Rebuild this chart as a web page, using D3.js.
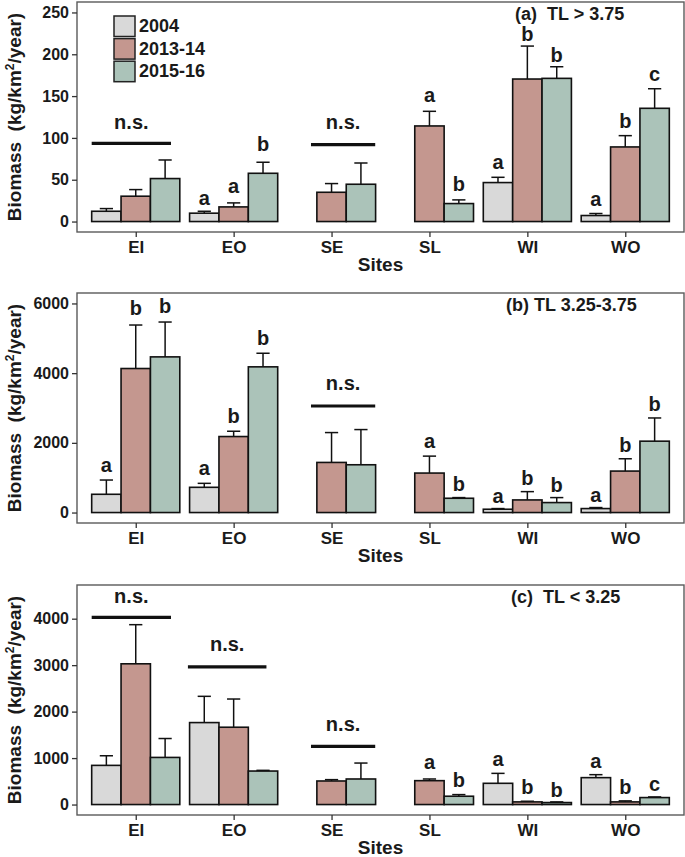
<!DOCTYPE html>
<html><head><meta charset="utf-8">
<script src="https://cdn.jsdelivr.net/npm/d3@7/dist/d3.min.js"></script>
<style>
body{margin:0;background:#fff}
svg{display:block}
text{font-family:"Liberation Sans",Arial,Helvetica,sans-serif;font-weight:bold;fill:#1a1a1a}
</style>
</head><body>
<svg id="chart" width="685" height="857"></svg>
<script>
const sites = ["EI","EO","SE","SL","WI","WO"];
const years = ["2004","2013-14","2015-16"];
const yearColors = ["#d9d9d9","#c4978f","#abc3b9"];

// Panel (a) TL > 3.75
const aMean2004 = [12.3,10,null,null,46.6,7.2];
const aMean2013 = [30.3,17.5,35,114.3,170.4,89.2];
const aMean2015 = [51.4,57.7,44.6,21.5,171.2,135.4];
const aErr2004 = [15.5,12.3,null,null,52.9,9.6];
const aErr2013 = [38.2,22.3,45.4,131.8,209.8,102.7];
const aErr2015 = [73.6,70.9,70,25.9,185.1,158.8];
const aLet2004 = ["","a","","","a","a"];
const aLet2013 = ["","a","","a","b","b"];
const aLet2015 = ["","b","","b","b","c"];
const aLetY2004 = [null,20.3,null,null,62.9,19.1];
const aLetY2013 = [null,33.8,null,142.5,215.4,111.5];
const aLetY2015 = [null,84,null,37,191,168.4];
const aTicks = [0,50,100,150,200,250];
const aLimits = [0,250];
const aNsSites = ["EI","SE"];
const aNsFrom = [-0.45,-0.21];
const aNsTo = [0.36,0.446];
const aNsLine = [93.5,92];
const aNsText = [110.7,110.7];

// Panel (b) TL 3.25-3.75
const bMean2004 = [524,724,null,null,95,114];
const bMean2013 = [4133,2181,1438,1133,362,1190];
const bMean2015 = [4467,4181,1371,410,286,2048];
const bErr2004 = [933,838,null,null,114,143];
const bErr2013 = [5381,2333,2295,1619,600,1543];
const bErr2015 = [5467,4571,2381,429,429,2714];
const bLet2004 = ["a","a","","","a","a"];
const bLet2013 = ["b","b","","a","b","b"];
const bLet2015 = ["b","b","","b","b","b"];
const bLetY2004 = [1162,1076,null,null,267,314];
const bLetY2013 = [5667,2571,null,1857,790,1743];
const bLetY2015 = [5714,4810,null,619,600,2924];
const bTicks = [0,2000,4000,6000];
const bLimits = [0,6000];
const bNsSites = ["SE"];
const bNsFrom = [-0.21];
const bNsTo = [0.446];
const bNsLine = [3057];
const bNsText = [3524];

// Panel (c) TL < 3.25
const cMean2004 = [843,1764,null,null,457,579];
const cMean2013 = [3029,1664,507,514,57,57];
const cMean2015 = [1014,721,550,179,43,150];
const cErr2004 = [1050,2329,null,null,671,643];
const cErr2013 = [3871,2271,536,550,71,79];
const cErr2015 = [1421,736,893,214,57,164];
const cLet2004 = ["","","","","a","a"];
const cLet2013 = ["","","","a","b","b"];
const cLet2015 = ["","","","b","b","c"];
const cLetY2004 = [null,null,null,null,832,786];
const cLetY2013 = [null,null,null,764,222,229];
const cLetY2015 = [null,null,null,386,172,290];
const cTicks = [0,1000,2000,3000,4000];
const cLimits = [0,4500];
const cNsSites = ["EI","EO","SE"];
const cNsFrom = [-0.45,-0.467,-0.21];
const cNsTo = [0.36,0.335,0.446];
const cNsLine = [4029,2964,1250];
const cNsText = [4336,3314,1586];

const panels = [
  {title:"(a)  TL > 3.75", tx:515, means:[aMean2004,aMean2013,aMean2015], errs:[aErr2004,aErr2013,aErr2015],
   lets:[aLet2004,aLet2013,aLet2015], letY:[aLetY2004,aLetY2013,aLetY2015], ticks:aTicks, limits:aLimits,
   ns:{sites:aNsSites,from:aNsFrom,to:aNsTo,line:aNsLine,text:aNsText}, legend:true},
  {title:"(b) TL 3.25-3.75", tx:506, means:[bMean2004,bMean2013,bMean2015], errs:[bErr2004,bErr2013,bErr2015],
   lets:[bLet2004,bLet2013,bLet2015], letY:[bLetY2004,bLetY2013,bLetY2015], ticks:bTicks, limits:bLimits,
   ns:{sites:bNsSites,from:bNsFrom,to:bNsTo,line:bNsLine,text:bNsText}},
  {title:"(c)  TL < 3.25", tx:511, means:[cMean2004,cMean2013,cMean2015], errs:[cErr2004,cErr2013,cErr2015],
   lets:[cLet2004,cLet2013,cLet2015], letY:[cLetY2004,cLetY2013,cLetY2015], ticks:cTicks, limits:cLimits,
   ns:{sites:cNsSites,from:cNsFrom,to:cNsTo,line:cNsLine,text:cNsText}}
];

const svg = d3.select("#chart");
const L = 77, R = 684, H = 230;
const tops = [2, 293, 585];

panels.forEach((p, pi) => {
  const top = tops[pi];
  const g = svg.append("g");
  const x = d3.scalePoint().domain(sites).range([L, R]).padding(0.6);
  const step = x.step();
  const sub = d3.scaleBand().domain(years).range([-0.45*step, 0.45*step]).padding(0);
  const ext = (p.limits[1]-p.limits[0])*0.05;
  const y = d3.scaleLinear().domain([p.limits[0]-ext, p.limits[1]+ext]).range([top+H, top]);

  const rows = [];
  sites.forEach((s, si) => years.forEach((yr, yi) => {
    const m = p.means[yi][si];
    if (m != null) rows.push({s, yr, yi, m, e:p.errs[yi][si], l:p.lets[yi][si], ly:p.letY[yi][si]});
  }));
  g.selectAll("rect.bar").data(rows).join("rect").attr("class","bar")
    .attr("x", d => x(d.s)+sub(d.yr)).attr("width", sub.bandwidth())
    .attr("y", d => y(d.m)).attr("height", d => y(0)-y(d.m))
    .attr("fill", d => yearColors[d.yi]).attr("stroke","#111").attr("stroke-width",1.6);
  const cap = sub.bandwidth()*0.45;
  rows.forEach(d => {
    const cx = x(d.s)+sub(d.yr)+sub.bandwidth()/2;
    g.append("line").attr("x1",cx).attr("x2",cx).attr("y1",y(d.m)).attr("y2",y(d.e))
      .attr("stroke","#111").attr("stroke-width",1.5);
    g.append("line").attr("x1",cx-cap/2).attr("x2",cx+cap/2).attr("y1",y(d.e)).attr("y2",y(d.e))
      .attr("stroke","#111").attr("stroke-width",1.5);
    if (d.l) g.append("text").attr("x",cx).attr("y",y(d.ly)).attr("text-anchor","middle")
      .attr("font-size",20).text(d.l);
  });
  p.ns.sites.forEach((s, i) => {
    const x1 = x(s)+p.ns.from[i]*step, x2 = x(s)+p.ns.to[i]*step;
    g.append("line").attr("x1",x1).attr("x2",x2).attr("y1",y(p.ns.line[i])).attr("y2",y(p.ns.line[i]))
      .attr("stroke","#111").attr("stroke-width",3.2);
    g.append("text").attr("x",(x1+x2)/2).attr("y",y(p.ns.text[i])).attr("text-anchor","middle")
      .attr("font-size",20).text("n.s.");
  });
  g.append("rect").attr("x",L).attr("y",top).attr("width",R-L).attr("height",H)
    .attr("fill","none").attr("stroke","#5a5a5a").attr("stroke-width",1.4);
  const ya = g.append("g").attr("transform",`translate(${L},0)`)
    .call(d3.axisLeft(y).tickValues(p.ticks).tickSize(5).tickPadding(3).tickFormat(d3.format("d")));
  ya.select(".domain").remove();
  ya.selectAll("line").attr("stroke","#333").attr("stroke-width",1.3);
  ya.selectAll("text").attr("font-size",16).attr("font-family",null).attr("fill","#1a1a1a");
  const xa = g.append("g").attr("transform",`translate(0,${top+H})`)
    .call(d3.axisBottom(x).tickSize(5).tickPadding(4));
  xa.select(".domain").remove();
  xa.selectAll("line").attr("stroke","#333").attr("stroke-width",1.3);
  xa.selectAll("text").attr("font-size",17).attr("font-family",null).attr("fill","#1a1a1a");
  g.append("text").attr("x",(L+R)/2).attr("y",top+H+39).attr("text-anchor","middle")
    .attr("font-size",19).text("Sites");
  const yt = g.append("text").attr("transform",`translate(21,${top+H/2}) rotate(-90)`)
    .attr("text-anchor","middle").attr("font-size",19);
  yt.append("tspan").text("Biomass\u00a0\u00a0(kg/km");
  yt.append("tspan").attr("baseline-shift","super").attr("font-size",12).text("2");
  yt.append("tspan").text("/year)");
  g.append("text").attr("x",p.tx).attr("y",top+18).attr("font-size",18)
    .style("white-space","pre").text(p.title);

  if (p.legend) {
    const lg = g.append("g");
    years.forEach((yr, i) => {
      lg.append("rect").attr("x",114).attr("y",top+14+i*22.6).attr("width",21).attr("height",20.5)
        .attr("fill",yearColors[i]).attr("stroke","#222").attr("stroke-width",1.5);
      lg.append("text").attr("x",139).attr("y",top+30+i*22.6).attr("font-size",18).text(yr);
    });
  }
});
</script>
</body></html>
